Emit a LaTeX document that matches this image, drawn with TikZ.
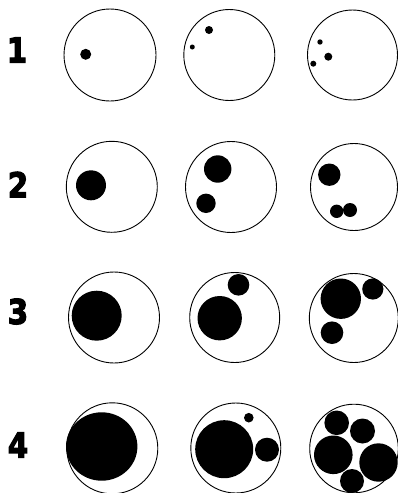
\documentclass[tikz,border=0pt]{standalone}
\usepackage{fontspec}
\usepackage{graphicx}
\newfontfamily\lblfont{DejaVu Sans}
\newcommand{\heavydigit}[1]{\special{pdf:literal direct 2 Tr 1.3 w}\scalebox{0.86}[1]{#1}\special{pdf:literal direct 0 Tr 0.4 w}}
\begin{document}
\begin{tikzpicture}[x=1pt,y=-1pt,
  ring/.style={draw=black, line width=0.9pt},
  blob/.style={fill=black},
  lbl/.style={font=\lblfont\bfseries\fontsize{34}{34}\selectfont, inner sep=0pt, anchor=center}]
\useasboundingbox (0,0) rectangle (398,493);
% labels
\node[lbl] (l1) at (17,50) {\heavydigit{1}};
\node[lbl] (l2) at (18,184.5) {\heavydigit{2}};
\node[lbl] (l3) at (18,311.5) {\heavydigit{3}};
\node[lbl] (l4) at (18,445) {\heavydigit{4}};
% row 1
\draw[ring] (110,55) circle[radius=46];
\draw[ring] (229.3,55) circle[radius=45.5];
\draw[ring] (352.5,55) circle[radius=45];
\fill[blob] (85.7,54.3) circle[radius=5.5];
\fill[blob] (209,30) circle[radius=4];
\fill[blob] (192.3,47) circle[radius=2.5];
\fill[blob] (320,42) circle[radius=2.7];
\fill[blob] (328.3,56.7) circle[radius=4];
\fill[blob] (313.3,63.7) circle[radius=3];
% row 2
\draw[ring] (111.8,186.8) circle[radius=45.5];
\draw[ring] (231,187) circle[radius=45.5];
\draw[ring] (354,187) circle[radius=43.5];
\fill[blob] (91,185.3) circle[radius=15];
\fill[blob] (217.7,169) circle[radius=13.7];
\fill[blob] (206,203.3) circle[radius=9.7];
\fill[blob] (329.3,174.7) circle[radius=11.2];
\fill[blob] (336.7,211.3) circle[radius=6.7];
\fill[blob] (350,210) circle[radius=7];
% row 3
\draw[ring] (114,317.5) circle[radius=45.5];
\draw[ring] (234.7,317.5) circle[radius=45];
\draw[ring] (353.8,318) circle[radius=44.5];
\fill[blob] (96.7,315.7) circle[radius=25];
\fill[blob] (219.7,318.2) circle[radius=22.2];
\fill[blob] (238.5,284.8) circle[radius=10.8];
\fill[blob] (340.8,298.7) circle[radius=20.2];
\fill[blob] (372.8,289) circle[radius=10.6];
\fill[blob] (332,332.7) circle[radius=11.3];
% row 4
\draw[ring] (112.3,448.3) circle[radius=45.5];
\draw[ring] (235.8,448) circle[radius=45];
\draw[ring] (354,448.5) circle[radius=44.3];
\fill[blob] (101.7,446.5) ellipse[x radius=35.7, y radius=34.2];
\fill[blob] (224.2,449.2) circle[radius=29];
\fill[blob] (267,449.7) circle[radius=12];
\fill[blob] (248.8,417.7) circle[radius=4.8];
\fill[blob] (336.7,422.8) circle[radius=12.3];
\fill[blob] (362.5,431) circle[radius=12.5];
\fill[blob] (333.3,454.8) circle[radius=19.3];
\fill[blob] (378.5,462.5) circle[radius=19.2];
\fill[blob] (352,481) circle[radius=12];
\end{tikzpicture}
\end{document}
